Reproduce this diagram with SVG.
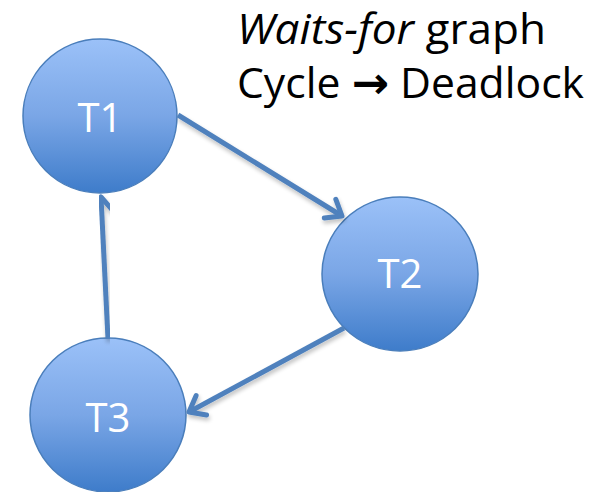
<svg xmlns="http://www.w3.org/2000/svg" width="601" height="492" viewBox="0 0 601 492">
<style>
.node{fill:url(#g);stroke:#4A7EBB;stroke-width:1.5}
.lbl{font-family:"Open Sans","Liberation Sans",sans-serif;font-size:40px;fill:#fff;text-anchor:middle}
.edge{fill:none;stroke:#4F81BD;stroke-width:5;marker-end:url(#ah);filter:url(#sh)}
.title{font-family:"Open Sans","Liberation Sans",sans-serif;font-size:42px;fill:#000}
</style>
<defs>
<linearGradient id="g" x1="0" y1="0" x2="0" y2="1">
<stop offset="0" stop-color="#9BC1F8"/>
<stop offset="0.5" stop-color="#7AA6E6"/>
<stop offset="1" stop-color="#3E7CCA"/>
</linearGradient>
<marker id="ah" markerUnits="userSpaceOnUse" markerWidth="40" markerHeight="40" viewBox="-20 -20 40 40" refX="0" refY="0" orient="auto">
<path d="M-14,-11 L0,0 L-14,11" fill="none" stroke="#4F81BD" stroke-width="5" stroke-linecap="round" stroke-linejoin="round"/>
</marker>
<filter id="sh" x="-20%" y="-20%" width="140%" height="140%">
<feGaussianBlur in="SourceAlpha" stdDeviation="2"/>
<feOffset dx="1" dy="3"/>
<feComponentTransfer><feFuncA type="linear" slope="0.25"/></feComponentTransfer>
<feMerge><feMergeNode/><feMergeNode in="SourceGraphic"/></feMerge>
</filter>
</defs>
<text class="title" x="237" y="44" textLength="309" lengthAdjust="spacingAndGlyphs"><tspan font-style="italic">Waits-for</tspan> graph</text>
<text class="title" x="237" y="98" textLength="347" lengthAdjust="spacingAndGlyphs">Cycle <tspan font-family="'DejaVu Sans',sans-serif" font-weight="bold" font-size="44">→</tspan> Deadlock</text>
<g id="T1"><ellipse class="node" cx="100" cy="116" rx="77" ry="77"/><text class="lbl" x="100" y="132">T1</text></g>
<g id="T2"><ellipse class="node" cx="400" cy="274" rx="78" ry="77"/><text class="lbl" x="400" y="288">T2</text></g>
<g id="T3"><ellipse class="node" cx="108" cy="415" rx="78" ry="77"/><text class="lbl" x="108" y="432">T3</text></g>
<g id="edges">
<line class="edge" x1="178" y1="115" x2="342" y2="216"/>
<line class="edge" x1="344" y1="328" x2="189" y2="412"/>
<line class="edge" x1="108" y1="339" x2="101" y2="197"/>
</g>
</svg>
